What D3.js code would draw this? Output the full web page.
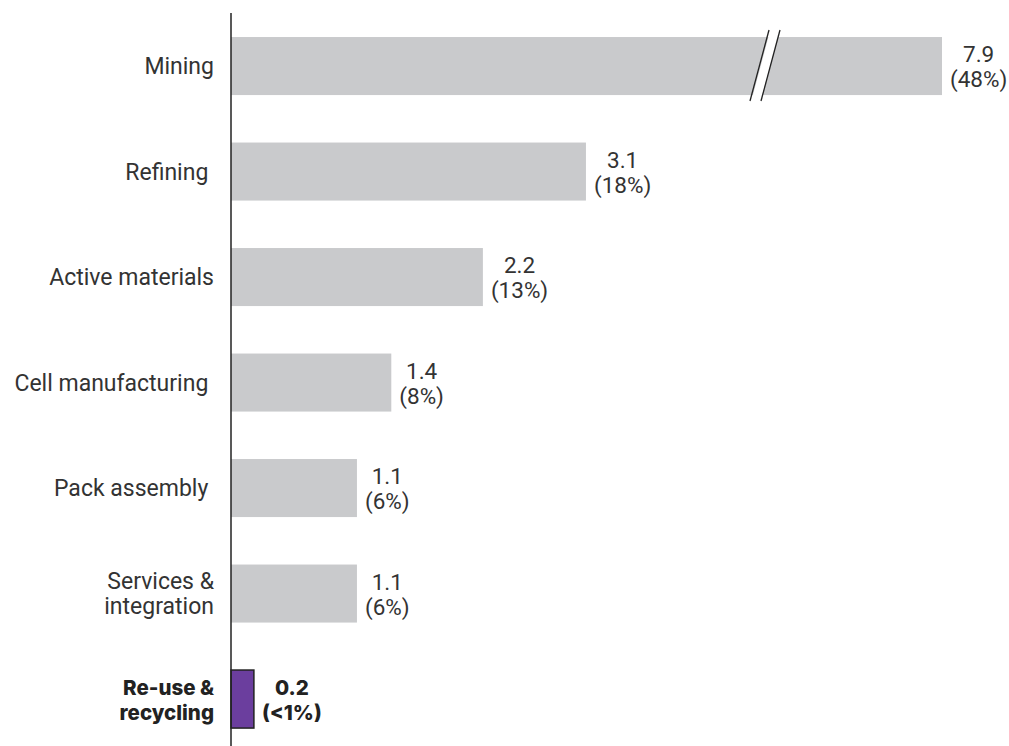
<!DOCTYPE html>
<html>
<head>
<meta charset="utf-8">
<script src="https://cdn.jsdelivr.net/npm/d3@7"></script>
<style>
  body { margin: 0; background: #fff; }
  svg text { font-family: Roboto, "Liberation Sans", sans-serif; fill: #333; white-space: pre; }
</style>
</head>
<body>
<div id="chart"></div>
<script>
// battery value chain - value by step, $ and share
const categories = ["Mining", "Refining", "Active materials", "Cell manufacturing", "Pack assembly", "Services & integration", "Re-use & recycling"];
const labelLines = [["Mining"], ["Refining "], ["Active materials"], ["Cell manufacturing "], ["Pack assembly "], ["Services &", "integration"], ["Re-use &", "recycling"]];
const values = [7.9, 3.1, 2.2, 1.4, 1.1, 1.1, 0.2];
const shares = ["(48%)", "(18%)", "(13%)", "(8%)", "(6%)", "(6%)", "(<1%)"];
const highlight = "Re-use & recycling";

const width = 1009, height = 746;
const x0 = 231;

const svg = d3.select("#chart").append("svg")
    .attr("width", width)
    .attr("height", height);

// broken scale: the mining bar is cut short
let x = d3.scaleLinear()
    .domain([0, 3.5, 7.9])
    .range([x0, x0 + 3.5 * 114.5, 942]);

let y = d3.scaleBand()
    .domain(categories)
    .range([13.3, 751.8])
    .paddingInner(0.45)
    .paddingOuter(0.225);

svg.selectAll("rect.bar")
    .data(values)
    .enter()
    .append("rect")
    .attr("class", "bar")
    .attr("x", x(0))
    .attr("y", (d, i) => y(categories[i]))
    .attr("width", d => x(d) - x(0))
    .attr("height", y.bandwidth())
    .attr("fill", (d, i) => categories[i] === highlight ? "#6b3e9e" : "#c9cacc")
    .attr("stroke", (d, i) => categories[i] === highlight ? "#222" : "none")
    .attr("stroke-width", 1.5);

// break marks on the mining bar
const by = y("Mining");
const bx = 765;
const brk = svg.append("g");
brk.append("path")
    .attr("d", `M${bx - 9},${by + 64} L${bx + 10},${by - 7}`)
    .attr("stroke", "#fff").attr("stroke-width", 9);
[-6, 5].forEach(off => {
    brk.append("line")
        .attr("x1", bx + off - 9).attr("y1", by + 64)
        .attr("x2", bx + off + 10).attr("y2", by - 7)
        .attr("stroke", "#222").attr("stroke-width", 1.3);
});

// axis line
svg.append("line")
    .attr("x1", x0).attr("x2", x0)
    .attr("y1", 13).attr("y2", height)
    .attr("stroke", "#222").attr("stroke-width", 1.5);

const boldFont = "Inter, sans-serif";

// category labels
svg.selectAll("text.cat")
    .data(categories)
    .enter()
    .append("text")
    .attr("class", "cat")
    .attr("text-anchor", "end")
    .style("font-size", d => d === highlight ? "20.5px" : "23px")
    .style("font-weight", d => d === highlight ? 800 : 400)
    .style("font-family", d => d === highlight ? boldFont : null)
    .style("fill", d => d === highlight ? "#222" : "#333")
    .each(function(d, i) {
        const lines = labelLines[i];
        const cy = y(d) + y.bandwidth() / 2;
        const start = cy - (lines.length - 1) * 12.5 + 8;
        d3.select(this).selectAll("tspan")
            .data(lines)
            .enter()
            .append("tspan")
            .attr("x", 214)
            .attr("y", (l, j) => start + j * 25)
            .text(l => l);
    });

// value labels, two lines, first centred on the second
svg.selectAll("g.val")
    .data(values)
    .enter()
    .append("g")
    .attr("class", "val")
    .each(function(d, i) {
        const g = d3.select(this);
        const hl = categories[i] === highlight;
        const cy = y(categories[i]) + y.bandwidth() / 2;
        const t2 = g.append("text")
            .attr("x", x(d) + 8)
            .attr("y", cy + 21)
            .style("font-size", hl ? "20.5px" : "22.5px")
            .style("font-weight", hl ? 800 : 400)
            .style("font-family", hl ? boldFont : null)
            .style("fill", hl ? "#222" : "#333")
            .text(shares[i]);
        const w = t2.node().getComputedTextLength();
        g.append("text")
            .attr("x", x(d) + 8 + w / 2)
            .attr("y", cy - 4)
            .attr("text-anchor", "middle")
            .style("font-size", hl ? "20.5px" : "22.5px")
            .style("font-weight", hl ? 800 : 400)
            .style("font-family", hl ? boldFont : null)
            .style("fill", hl ? "#222" : "#333")
            .text(d.toFixed(1));
    });
</script>
</body>
</html>
